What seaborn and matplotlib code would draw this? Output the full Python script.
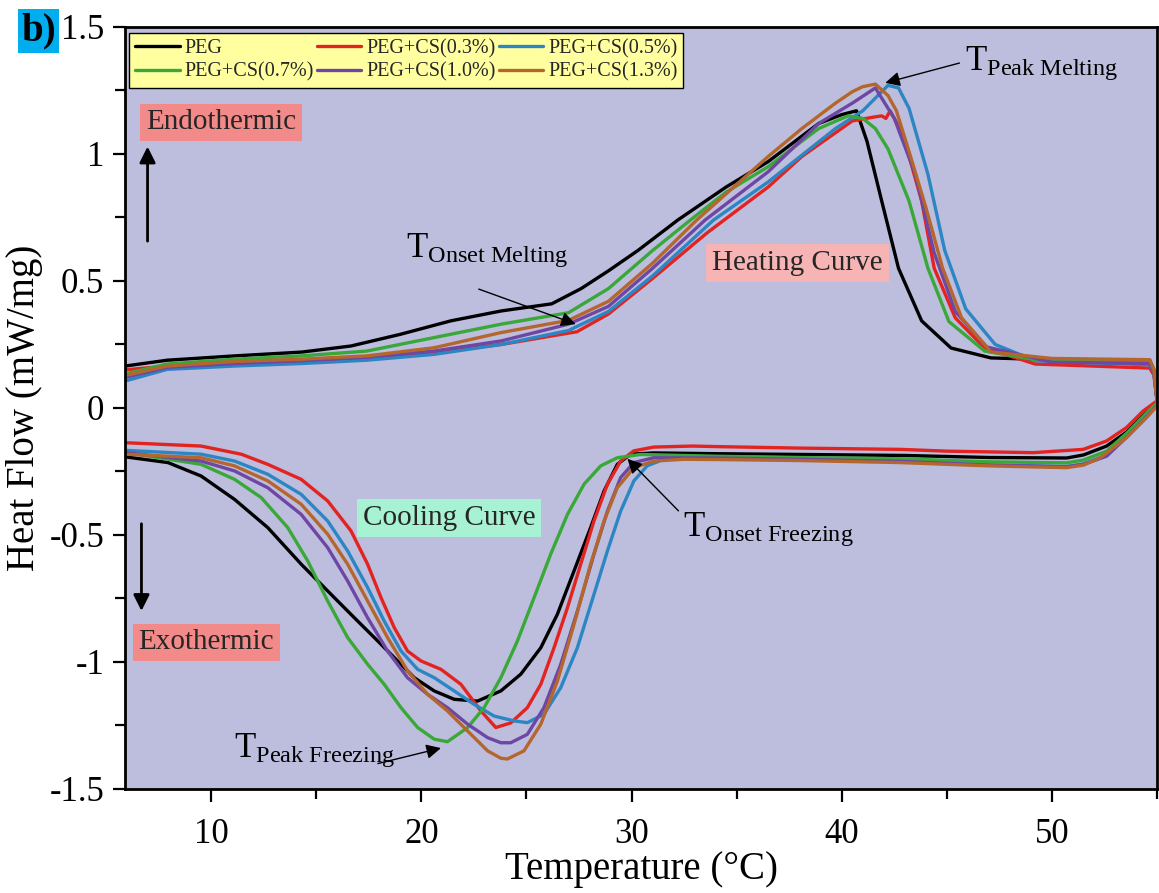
import numpy as np
import pandas as pd
import matplotlib
matplotlib.use("Agg")
import matplotlib.pyplot as plt
import seaborn as sns
from matplotlib.ticker import MultipleLocator

# ---------------- data ----------------
samples = ["PEG", "PEG+CS(0.3%)", "PEG+CS(0.5%)", "PEG+CS(0.7%)", "PEG+CS(1.0%)", "PEG+CS(1.3%)"]
colors = ["#000000", "#E3231F", "#2C86C3", "#3AA838", "#6E46A3", "#B5662D"]

# heating segments
peg_heat_x = [5.9, 7.9, 11.1, 14.3, 16.65, 19.0, 21.4, 23.8, 26.2, 27.6, 28.9, 30.3, 32.2, 34.5, 36.5, 38.9, 40.0, 40.7, 41.2, 41.9, 42.7, 43.8, 45.2, 47.1, 50.0, 54.65, 54.85, 55.0]
peg_heat_y = [0.165, 0.188, 0.205, 0.22, 0.244, 0.29, 0.343, 0.382, 0.41, 0.47, 0.54, 0.62, 0.74, 0.87, 0.97, 1.12, 1.155, 1.17, 1.05, 0.815, 0.55, 0.343, 0.236, 0.197, 0.19, 0.188, 0.15, 0.03]

cs03_heat_x = [5.9, 7.9, 11.1, 14.3, 17.4, 20.6, 23.8, 26.3, 27.4, 28.9, 31.0, 33.6, 36.5, 38.1, 40.5, 41.5, 41.9, 42.1, 42.3, 42.9, 43.8, 44.4, 45.4, 46.8, 49.2, 54.65, 54.85, 55.0]
cs03_heat_y = [0.15, 0.165, 0.172, 0.178, 0.192, 0.218, 0.25, 0.285, 0.30, 0.37, 0.51, 0.69, 0.87, 0.99, 1.13, 1.145, 1.15, 1.14, 1.17, 1.08, 0.815, 0.55, 0.355, 0.236, 0.173, 0.157, 0.13, 0.03]

cs05_heat_x = [5.9, 7.9, 11.1, 14.3, 17.4, 20.6, 23.8, 27.0, 28.9, 31.0, 33.9, 36.5, 39.7, 41.0, 41.6, 42.2, 42.7, 43.2, 44.1, 44.9, 45.9, 47.3, 49.2, 54.65, 54.85, 55.0]
cs05_heat_y = [0.106, 0.152, 0.165, 0.175, 0.188, 0.211, 0.25, 0.305, 0.38, 0.52, 0.74, 0.89, 1.10, 1.17, 1.22, 1.27, 1.26, 1.18, 0.92, 0.62, 0.39, 0.25, 0.186, 0.17, 0.14, 0.03]

cs07_heat_x = [5.9, 7.9, 11.1, 14.3, 17.4, 20.6, 23.8, 27.0, 28.9, 31.0, 32.8, 34.5, 36.5, 38.9, 40.3, 41.0, 41.6, 42.2, 43.2, 44.1, 45.1, 46.8, 49.2, 54.65, 54.85, 55.0]
cs07_heat_y = [0.134, 0.173, 0.192, 0.205, 0.224, 0.277, 0.33, 0.375, 0.47, 0.62, 0.74, 0.85, 0.95, 1.10, 1.15, 1.14, 1.10, 1.02, 0.815, 0.55, 0.34, 0.224, 0.19, 0.185, 0.15, 0.03]

cs10_heat_x = [5.9, 7.9, 11.1, 14.3, 17.4, 20.6, 23.8, 27.0, 28.9, 31.0, 33.5, 36.5, 38.9, 40.5, 41.6, 42.5, 43.5, 44.4, 45.4, 46.9, 50.0, 54.65, 54.85, 55.0]
cs10_heat_y = [0.12, 0.16, 0.175, 0.186, 0.2, 0.224, 0.264, 0.33, 0.40, 0.55, 0.74, 0.93, 1.12, 1.20, 1.26, 1.14, 0.92, 0.61, 0.38, 0.24, 0.18, 0.175, 0.14, 0.03]

cs13_heat_x = [5.9, 7.9, 11.1, 14.3, 17.4, 20.6, 23.8, 27.0, 28.9, 31.0, 33.1, 35.0, 36.5, 38.1, 39.7, 40.5, 41.0, 41.6, 42.2, 42.6, 43.2, 44.0, 44.8, 45.7, 47.1, 50.0, 54.65, 54.85, 55.0]
cs13_heat_y = [0.128, 0.165, 0.183, 0.192, 0.205, 0.237, 0.297, 0.345, 0.42, 0.57, 0.74, 0.88, 0.99, 1.10, 1.20, 1.245, 1.265, 1.275, 1.23, 1.17, 1.01, 0.79, 0.55, 0.355, 0.22, 0.195, 0.19, 0.15, 0.03]

# cooling segments (temperature decreasing)
peg_cool_x = [55.0, 54.34, 53.55, 52.6, 51.5, 50.7, 47.0, 43.0, 38.0, 34.0, 31.05, 29.95, 29.32, 28.69, 28.05, 27.26, 26.47, 25.68, 24.73, 23.78, 22.67, 21.56, 20.61, 19.66, 18.71, 17.76, 16.81, 15.86, 15.07, 14.28, 12.69, 11.11, 9.52, 7.94, 5.96]
peg_cool_y = [0.02, -0.03, -0.095, -0.15, -0.185, -0.197, -0.195, -0.187, -0.183, -0.18, -0.177, -0.182, -0.222, -0.327, -0.471, -0.642, -0.812, -0.944, -1.048, -1.114, -1.154, -1.147, -1.114, -1.062, -0.983, -0.904, -0.826, -0.747, -0.681, -0.615, -0.471, -0.36, -0.268, -0.215, -0.193]

cs03_cool_x = [55.0, 54.34, 53.55, 52.6, 51.49, 49.11, 45.0, 42.78, 38.0, 34.0, 32.9, 31.05, 30.1, 29.48, 28.85, 28.21, 27.58, 26.95, 26.31, 25.68, 25.04, 24.25, 23.54, 22.83, 21.88, 20.93, 19.98, 19.34, 18.71, 18.08, 17.44, 16.65, 15.54, 14.28, 12.69, 11.43, 9.52, 5.96]
cs03_cool_y = [0.028, -0.012, -0.077, -0.13, -0.163, -0.176, -0.17, -0.163, -0.158, -0.152, -0.15, -0.154, -0.169, -0.209, -0.30, -0.445, -0.615, -0.786, -0.944, -1.088, -1.18, -1.24, -1.258, -1.193, -1.088, -1.029, -0.996, -0.957, -0.865, -0.747, -0.615, -0.484, -0.366, -0.281, -0.222, -0.182, -0.15, -0.137]

cs05_cool_x = [55.0, 54.5, 53.55, 52.6, 51.5, 50.7, 47.0, 42.78, 38.0, 34.0, 32.5, 31.53, 30.74, 30.11, 29.48, 28.85, 28.21, 27.42, 26.63, 25.83, 25.04, 24.41, 23.46, 22.51, 21.56, 20.61, 19.82, 19.03, 18.23, 17.44, 16.49, 15.54, 14.28, 12.69, 11.11, 9.52, 5.96]
cs05_cool_y = [0.01, -0.035, -0.115, -0.185, -0.22, -0.23, -0.225, -0.21, -0.203, -0.198, -0.195, -0.202, -0.228, -0.287, -0.406, -0.563, -0.734, -0.944, -1.101, -1.206, -1.239, -1.232, -1.213, -1.167, -1.114, -1.062, -1.029, -0.957, -0.839, -0.707, -0.563, -0.445, -0.34, -0.261, -0.209, -0.182, -0.167]

cs07_cool_x = [55.0, 54.5, 53.55, 52.6, 51.5, 50.7, 47.0, 42.78, 38.0, 34.0, 30.42, 29.32, 28.53, 27.74, 26.95, 26.15, 25.36, 24.57, 23.78, 22.98, 22.2, 21.24, 20.61, 19.82, 19.03, 18.23, 17.44, 16.49, 15.54, 14.59, 13.64, 12.38, 11.11, 9.52, 5.96]
cs07_cool_y = [0.02, -0.02, -0.1, -0.17, -0.205, -0.216, -0.212, -0.2, -0.195, -0.19, -0.183, -0.196, -0.228, -0.30, -0.419, -0.576, -0.747, -0.917, -1.062, -1.18, -1.258, -1.314, -1.304, -1.258, -1.18, -1.088, -1.009, -0.904, -0.76, -0.602, -0.471, -0.353, -0.281, -0.222, -0.176]

cs10_cool_x = [55.0, 54.5, 53.55, 52.6, 51.5, 50.7, 47.0, 42.78, 38.0, 34.0, 31.05, 30.11, 29.48, 28.85, 28.21, 27.42, 26.63, 25.83, 25.04, 24.25, 23.78, 23.15, 22.2, 21.24, 20.29, 19.34, 18.39, 17.44, 16.49, 15.54, 14.28, 12.69, 11.11, 9.52, 5.96]
cs10_cool_y = [0.01, -0.035, -0.115, -0.19, -0.222, -0.232, -0.225, -0.21, -0.202, -0.197, -0.196, -0.215, -0.274, -0.406, -0.576, -0.80, -1.009, -1.18, -1.285, -1.318, -1.318, -1.298, -1.245, -1.18, -1.127, -1.062, -0.957, -0.826, -0.681, -0.55, -0.419, -0.314, -0.248, -0.209, -0.176]

cs13_cool_x = [55.0, 54.5, 53.55, 52.3, 51.5, 50.7, 47.0, 42.78, 38.0, 34.0, 32.5, 31.05, 30.11, 29.32, 28.69, 28.05, 27.26, 26.47, 25.68, 24.88, 24.09, 23.78, 23.15, 22.2, 21.24, 20.29, 19.34, 18.39, 17.44, 16.49, 15.54, 14.28, 12.69, 11.11, 9.52, 5.96]
cs13_cool_y = [0.008, -0.038, -0.117, -0.196, -0.225, -0.235, -0.228, -0.215, -0.207, -0.203, -0.202, -0.209, -0.235, -0.314, -0.445, -0.615, -0.852, -1.075, -1.245, -1.35, -1.382, -1.379, -1.35, -1.272, -1.193, -1.127, -1.035, -0.904, -0.76, -0.615, -0.497, -0.379, -0.287, -0.228, -0.196, -0.182]

x_ticks = [10, 20, 30, 40, 50]
y_ticks = [-1.5, -1.0, -0.5, 0.0, 0.5, 1.0, 1.5]
y_tick_labels = ["-1.5", "-1", "-0.5", "0", "0.5", "1", "1.5"]

heat_x = [peg_heat_x, cs03_heat_x, cs05_heat_x, cs07_heat_x, cs10_heat_x, cs13_heat_x]
heat_y = [peg_heat_y, cs03_heat_y, cs05_heat_y, cs07_heat_y, cs10_heat_y, cs13_heat_y]
cool_x = [peg_cool_x, cs03_cool_x, cs05_cool_x, cs07_cool_x, cs10_cool_x, cs13_cool_x]
cool_y = [peg_cool_y, cs03_cool_y, cs05_cool_y, cs07_cool_y, cs10_cool_y, cs13_cool_y]

rows = []
for s, hx, hy, cx, cy in zip(samples, heat_x, heat_y, cool_x, cool_y):
    for i, (xv, yv) in enumerate(zip(hx + cx, hy + cy)):
        rows.append({"Sample": s, "Temperature": xv, "HeatFlow": yv, "order": i})
df = pd.DataFrame(rows)

# ---------------- style ----------------
sns.set_theme(style="ticks")
plt.rcParams["font.family"] = ["Liberation Serif", "DejaVu Serif"]
plt.rcParams["mathtext.fontset"] = "custom"
plt.rcParams["mathtext.rm"] = "Liberation Serif"
plt.rcParams["mathtext.it"] = "Liberation Serif:italic"
plt.rcParams["axes.unicode_minus"] = False

fig = plt.figure(figsize=(11.59, 8.93), dpi=100)
ax = fig.add_axes([0.1079, 0.1165, 0.8904, 0.8533])
ax.set_facecolor("#BDBDDD")

sns.lineplot(data=df, x="Temperature", y="HeatFlow", hue="Sample", hue_order=samples,
             palette=colors, sort=False, estimator=None, linewidth=2.4, ax=ax)
for ln in ax.get_lines():
    ln.set_solid_joinstyle("round")
    ln.set_solid_capstyle("round")

ax.set_xlim(5.9, 55.0)
ax.set_ylim(-1.5, 1.5)
ax.set_xticks(x_ticks)
ax.set_xticklabels([str(v) for v in x_ticks])
ax.set_yticks(y_ticks)
ax.set_yticklabels(y_tick_labels)
ax.xaxis.set_minor_locator(MultipleLocator(5))
ax.yaxis.set_minor_locator(MultipleLocator(0.25))
ax.tick_params(axis="both", which="major", direction="out", length=9, width=1.6,
               labelsize=25, color="black", labelcolor="black", pad=6)
ax.tick_params(axis="both", which="minor", direction="out", length=7, width=1.6, color="black")
ax.tick_params(axis="x", which="major", pad=12)
for sp in ax.spines.values():
    sp.set_visible(True)
    sp.set_color("black")
    sp.set_linewidth(2.0)

ax.set_xlabel("Temperature (°C)", fontsize=28, color="black", labelpad=0)
ax.set_ylabel("Heat Flow (mW/mg)", fontsize=28, color="black", labelpad=5)

# legend (row-major order as in reference)
handles, labels = ax.get_legend_handles_labels()
ax.get_legend().remove()
order = [0, 3, 1, 4, 2, 5]
leg = ax.legend([handles[i] for i in order], [labels[i] for i in order], ncol=3,
                loc="upper left", bbox_to_anchor=(0.004, 0.992), fontsize=14.5,
                frameon=True, fancybox=False, edgecolor="black", facecolor="#FFFFA0",
                framealpha=1.0, handlelength=2.2, handletextpad=0.25, columnspacing=0.15,
                borderpad=0.3, labelspacing=0.2, borderaxespad=0.0)
leg.get_frame().set_linewidth(1.0)
for ln in leg.get_lines():
    ln.set_linewidth(2.4)

# region labels
ax.text(10.47, 1.124, "Endothermic", fontsize=21, ha="center", va="center",
        bbox=dict(boxstyle="square,pad=0.2", fc="#F28A8A", ec="none"))
ax.text(9.76, -0.923, "Exothermic", fontsize=21, ha="center", va="center",
        bbox=dict(boxstyle="square,pad=0.2", fc="#F28A8A", ec="none"))
ax.text(37.89, 0.571, "Heating Curve", fontsize=21, ha="center", va="center",
        bbox=dict(boxstyle="square,pad=0.2", fc="#F6B4B4", ec="none"))
ax.text(21.31, -0.433, "Cooling Curve", fontsize=21, ha="center", va="center",
        bbox=dict(boxstyle="square,pad=0.2", fc="#A6F2D2", ec="none"))

# endo / exo arrows
ax.annotate("", xy=(6.97, 1.04), xytext=(6.97, 0.646),
            arrowprops=dict(arrowstyle="-|>", color="black", lw=2.0, mutation_scale=24))
ax.annotate("", xy=(6.68, -0.81), xytext=(6.68, -0.445),
            arrowprops=dict(arrowstyle="-|>", color="black", lw=2.0, mutation_scale=24))

# temperature annotations
def tlabel(x, y, sub):
    ax.text(x, y, r"$\mathrm{T}_{\mathrm{" + sub.replace(" ", r"\ ") + "}}$",
            fontsize=25, ha="left", va="baseline", color="black")

def tarrow(tail, head):
    ax.annotate("", xy=head, xytext=tail,
                arrowprops=dict(arrowstyle="-|>", color="black", lw=1.0, mutation_scale=22,
                                shrinkA=0, shrinkB=0))

tlabel(45.85, 1.33, "Peak Melting")
tarrow((45.6, 1.358), (42.07, 1.28))
tlabel(19.26, 0.595, "Onset Melting")
tarrow((22.73, 0.468), (27.34, 0.33))
tlabel(32.45, -0.505, "Onset Freezing")
tarrow((32.23, -0.405), (29.8, -0.2))
tlabel(11.1, -1.375, "Peak Freezing")
tarrow((17.93, -1.40), (20.93, -1.339))

# panel label
fig.text(21 / 1159, 1 - 31 / 893, "b)", fontsize=28, fontweight="bold", ha="left", va="center",
         color="black", bbox=dict(boxstyle="square,pad=0.08", fc="#00AEEF", ec="none"))

fig.savefig("out.png", dpi=100)
